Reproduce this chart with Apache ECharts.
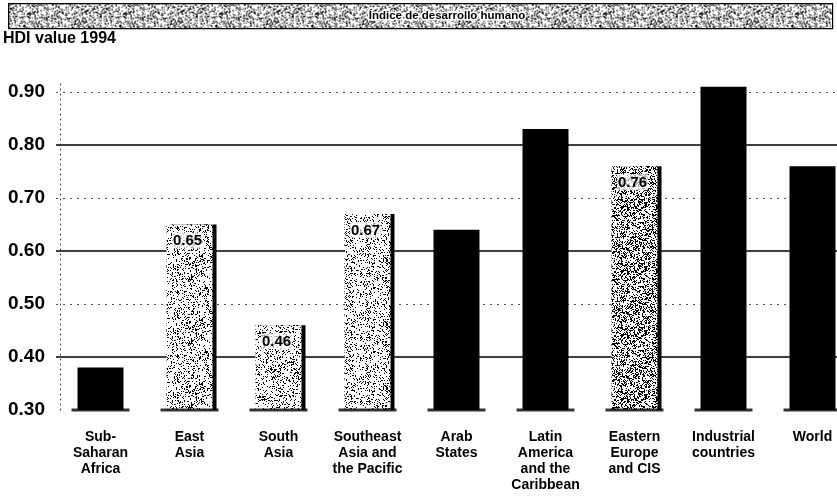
<!DOCTYPE html>
<html>
<head>
<meta charset="utf-8">
<script src="https://cdn.jsdelivr.net/npm/echarts@6/dist/echarts.min.js"></script>
<style>
  html, body { margin: 0; padding: 0; background: #fff; }
  #chart { width: 837px; height: 504px; }
</style>
</head>
<body>
<div id="chart"></div>
<script>
// HDI value 1994 by region
const regions = [
  'Sub-\nSaharan\nAfrica',
  'East\nAsia',
  'South\nAsia',
  'Southeast\nAsia and\nthe Pacific',
  'Arab\nStates',
  'Latin\nAmerica\nand the\nCaribbean',
  'Eastern\nEurope\nand CIS',
  'Industrial\ncountries',
  'World'
];
const hdiValues = [0.38, 0.65, 0.46, 0.67, 0.64, 0.83, 0.76, 0.91, 0.76];
// which bars are drawn stippled (and labelled with their value)
const stippled = [false, true, true, true, false, false, true, false, false];
// stipple density per bar (only used for stippled bars)
const stippleDensity = [0, 0.2, 0.2, 0.2, 0, 0, 0.38, 0, 0];
const dottedLevels = [0.5, 0.7, 0.9];
const yMin = 0.3, yTop = 0.9, yStep = 0.1;
// a little headroom above the top tick so the tallest bar is not cut
const yMax = 0.92;

const FONT = '"Liberation Sans", Arial, sans-serif';

// deterministic hash used for the speckled screen texture
function hash(x, y, s) {
  let h = (x * 374761393 + y * 668265263 + s * 1442695041) | 0;
  h = Math.imul(h ^ (h >>> 13), 1274126177);
  h ^= h >>> 16;
  return (h >>> 0) % 1000;
}
function speckle(density, seed, size) {
  const c = document.createElement('canvas');
  c.width = c.height = size || 64;
  const g = c.getContext('2d');
  g.fillStyle = '#fff';
  g.fillRect(0, 0, c.width, c.height);
  g.fillStyle = '#000';
  for (let y = 0; y < c.height; y++) {
    for (let x = 0; x < c.width; x++) {
      const h = hash(x, y, seed);
      if (h < density * 1000) g.fillRect(x, y, 1, 1);
    }
  }
  return c;
}

const barData = hdiValues.map((v, i) => {
  if (!stippled[i]) {
    return { value: v, itemStyle: { color: '#000' } };
  }
  return {
    value: v,
    itemStyle: {
      color: { image: speckle(stippleDensity[i], i + 1), repeat: 'repeat' },
      shadowColor: '#000',
      shadowOffsetX: 4,
      shadowOffsetY: 0,
      shadowBlur: 0
    },
    label: {
      show: true,
      position: 'insideTop',
      offset: [-2, 3],
      formatter: p => p.value.toFixed(2),
      fontFamily: FONT,
      fontWeight: 'bold',
      fontSize: 15,
      color: '#000',
      backgroundColor: 'rgba(255,255,255,0.7)',
      padding: [1, 1, 0, 1]
    }
  };
});

// pixel layout: 0.30 sits at y=410 and 0.90 at y=92
const plotBottom = 410, plotTopTick = 92;
const pxPerUnit = (plotBottom - plotTopTick) / (yTop - yMin);
const gridTop = plotBottom - (yMax - yMin) * pxPerUnit;

const onTick = v => Math.abs(v / yStep - Math.round(v / yStep)) < 1e-6 && v <= yTop + 1e-9;

const chart = echarts.init(document.getElementById('chart'), null, { renderer: 'canvas' });

chart.setOption({
  animation: false,
  backgroundColor: '#fff',
  grid: {
    left: 56, top: gridTop, width: 801, height: plotBottom - gridTop,
    outerBoundsMode: 'none', containLabel: false
  },
  xAxis: {
    type: 'category',
    data: regions,
    axisLine: { show: false },
    axisTick: { show: false },
    axisLabel: {
      interval: 0,
      margin: 19,
      fontFamily: FONT,
      fontWeight: 'bold',
      fontSize: 14,
      lineHeight: 16,
      color: '#000',
      align: 'center'
    }
  },
  yAxis: {
    type: 'value',
    min: yMin,
    max: yMax,
    interval: yStep,
    offset: -4,
    axisLine: { show: true, lineStyle: { color: '#333', type: [1, 4], width: 1 } },
    axisTick: { show: false },
    axisLabel: {
      margin: 15,
      formatter: v => (onTick(v) ? v.toFixed(2) : ''),
      fontFamily: FONT,
      fontWeight: 'bold',
      fontSize: 19,
      color: '#000'
    },
    splitLine: {
      show: true,
      lineStyle: {
        color: ['transparent', '#000', 'transparent', '#000', 'transparent', '#000', 'transparent', 'transparent'],
        width: 1.5
      }
    }
  },
  series: [
    {
      // faint dotted guides at the odd levels, kept behind the bars
      type: 'line',
      data: [],
      z: 1,
      silent: true,
      markLine: {
        silent: true,
        z: 1,
        symbol: 'none',
        label: { show: false },
        lineStyle: { color: '#555', type: [2, 5], width: 1 },
        data: dottedLevels.map(v => ({ yAxis: v }))
      }
    },
    {
      type: 'bar',
      data: barData,
      barWidth: 46,
      z: 3
    },
    {
      // base plates under each bar
      type: 'scatter',
      data: regions.map((r, i) => [i, yMin]),
      symbol: 'rect',
      symbolSize: [58, 3],
      itemStyle: { color: '#000' },
      z: 4,
      silent: true
    }
  ],
  graphic: [
    {
      type: 'rect',
      left: 8, top: 3,
      shape: { width: 824, height: 25 },
      style: {
        fill: { image: speckle(0.28, 99, 96), repeat: 'repeat' },
        stroke: '#000',
        lineWidth: 1.2
      },
      z: 10
    },
    {
      type: 'text',
      x: 447, y: 16,
      style: {
        text: 'Índice de desarrollo humano',
        fontFamily: FONT,
        fontWeight: 'bold',
        fontSize: 11.5,
        fill: '#000',
        align: 'center',
        verticalAlign: 'middle',
        stroke: '#fff',
        lineWidth: 3
      },
      z: 11
    },
    {
      type: 'text',
      x: 3, y: 39,
      style: {
        text: 'HDI value 1994',
        fontFamily: FONT,
        fontWeight: 'bold',
        fontSize: 16,
        fill: '#000',
        align: 'left',
        verticalAlign: 'middle'
      },
      z: 11
    }
  ]
});
</script>
</body>
</html>
